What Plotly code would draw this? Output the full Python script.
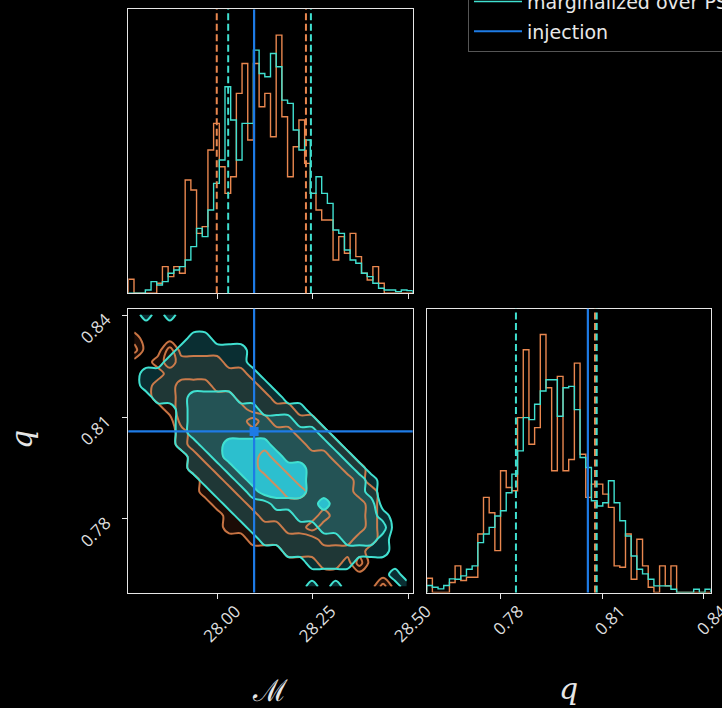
import numpy as np
import plotly.graph_objects as go

W, H = 722, 708

# ---- axis setup -------------------------------------------------------
MC_RANGE = [27.766, 28.512]
Q_RANGE = [0.7583, 0.8420]
MC_TICKS = [28.00, 28.25, 28.50]
MC_TICKTEXT = ["28.00", "28.25", "28.50"]
Q_TICKS = [0.78, 0.81, 0.84]
Q_TICKTEXT = ["0.78", "0.81", "0.84"]

# ---- injected values and 1-D credible bounds --------------------------
MC_INJ = 28.096
Q_INJ = 0.8058
MC_BOUNDS_FIXED = [27.998, 28.232]
MC_BOUNDS_MARG = [28.028, 28.245]
Q_BOUNDS_FIXED = [0.8079]
Q_BOUNDS_MARG = [0.7846, 0.8084]

# ---- 1-D histograms (50 bins spanning each axis range) -----------------
MC_HIST_FIXED = [4.2, 0, 0, 0, 0, 3, 8, 5, 8, 6, 34, 31, 18, 20, 43, 51, 38, 30, 35, 60,
                 69, 46, 69, 56, 60, 47, 77.5, 53, 35, 44, 52, 39, 30, 25, 22, 22, 10, 17, 12, 18,
                 11, 6, 4, 8, 3, 0, 0, 0, 0, 0]
MC_HIST_MARG = [0, 0, 0, 1, 3.5, 2.5, 3.5, 6, 7, 8, 10, 14, 19.5, 17, 25, 33, 40, 62, 52, 40,
                51, 51, 73, 66, 65, 72, 68, 58, 57, 49, 43, 46, 30, 35, 30, 27, 19, 18, 13, 10,
                9, 6, 5, 3, 1.5, 1, 1, 0.5, 1, 0.8]
Q_HIST_FIXED = [4.3, 0, 0, 0, 3, 8, 3.6, 4.6, 4.6, 17.6, 28.6, 24, 12.6, 36.6, 31.6, 30.6, 52.6, 73, 44.6, 49.6,
                77.6, 61.6, 36.6, 65, 36.6, 40, 69, 41.6, 28.6, 32.6, 32.6, 29.6, 25.6, 8, 7.6, 17.6, 4, 16, 8, 1.6,
                0, 8, 2, 8, 0, 0, 0, 0, 0, 0]
Q_HIST_MARG = [2.1, 1.6, 1.1, 2.1, 4.1, 4, 5, 7, 8, 15, 17.6, 19.6, 23, 24.6, 30, 35.6, 42.6, 52.6, 52, 56.6,
               60.6, 64, 64, 53, 61.6, 62, 55, 40.6, 37.6, 27.6, 26, 27, 33.6, 27, 21.6, 17, 11, 7, 5.6, 4,
               2, 2, 2, 1, 0, 0, 0, 1, 0, 1]

# ---- 2-D credible-region levels on a 24x24 grid (top row first) --------
# 0 = outside, 1 = outer region, 2 = middle region, 3 = inner region
LEVELS_FIXED = [
    "000000000000000000000000",
    "000000000000000000000000",
    "100000000000000000000000",
    "200200000000000000000000",
    "001211110000000000000000",
    "000111111100000000000000",
    "001122211110000000000000",
    "001122222111000000000000",
    "000122222211110000000000",
    "000022222232111100000000",
    "000012222222221110000000",
    "000012222222222111000000",
    "000001222223222221100000",
    "000001122223322222110000",
    "000000112222332222210000",
    "000000111222233222211000",
    "000000011122222222221000",
    "000000001112222232221000",
    "000000001111122322221000",
    "000000000011111122211000",
    "000000000000011111110000",
    "000000000000000011020000",
    "000000000000000000000000",
    "000000000000000000000200",
]
LEVELS_MARG = [
    "010100000000000000000000",
    "000000000000000000000000",
    "000001100000000000000000",
    "000011111100000000000000",
    "000111111100000000000000",
    "011111111110000000000000",
    "011111111111000000000000",
    "001112222111100000000000",
    "000012222221111000000000",
    "000012222222221100000000",
    "000012222222222210000000",
    "000011223333222221000000",
    "000001123333322222100000",
    "000001112333333222210000",
    "000000111233333222221000",
    "000000011123333222221000",
    "000000001111222232222000",
    "000000000111112222222100",
    "000000000011111122222200",
    "000000000001111111222100",
    "000000000000011111111100",
    "000000000000000111100000",
    "000000000000000000000010",
    "000000000000000101000001",
]

C_OR = "#E9874F"
C_CY = "#40E0D0"
C_BL = "#1E7BE5"
FG = "#e6e6e6"
TICK_FONT = dict(family="Open Sans", size=17, color="#dddddd")

# panel placement (fractions of the figure)
DX_LEFT = [128.3 / W, 412.7 / W]
DX_RIGHT = [426.7 / W, 710.7 / W]
DY_TOP = [1 - 293.3 / H, 1 - 9.3 / H]
DY_BOT = [1 - 592.5 / H, 1 - 308.7 / H]


def step_xy(counts, rng):
    edges = np.linspace(rng[0], rng[1], len(counts) + 1)
    xs = np.concatenate([[edges[0]], edges[1:], [edges[-1]]])
    ys = np.concatenate([[0.0], np.asarray(counts, float), [0.0]])
    return xs, ys


def level_grid(rows):
    return np.array([[int(ch) for ch in r] for r in rows[::-1]], dtype=float)


def cell_centers(rng, n):
    step = (rng[1] - rng[0]) / n
    return rng[0] + (np.arange(n) + 0.5) * step


fig = go.Figure()

mc_top = 1.1 * max(max(MC_HIST_FIXED), max(MC_HIST_MARG))
q_top = 1.1 * max(max(Q_HIST_FIXED), max(Q_HIST_MARG))

# ---- chirp-mass marginal -------------------------------------------------
xs, ys = step_xy(MC_HIST_FIXED, MC_RANGE)
fig.add_trace(go.Scatter(x=xs, y=ys, mode="lines", line=dict(color=C_OR, width=1.4, shape="vh"),
                         name="fixed PSD", legendgroup="a", xaxis="x", yaxis="y"))
xs, ys = step_xy(MC_HIST_MARG, MC_RANGE)
fig.add_trace(go.Scatter(x=xs, y=ys, mode="lines", line=dict(color=C_CY, width=1.4, shape="vh"),
                         name="marginalized over PSD", legendgroup="b", xaxis="x", yaxis="y"))
fig.add_trace(go.Scatter(x=[MC_INJ, MC_INJ], y=[0, mc_top], mode="lines",
                         line=dict(color=C_BL, width=2.2), name="injection", legendgroup="c",
                         xaxis="x", yaxis="y"))

# ---- mass-ratio marginal -------------------------------------------------
xs, ys = step_xy(Q_HIST_FIXED, Q_RANGE)
fig.add_trace(go.Scatter(x=xs, y=ys, mode="lines", line=dict(color=C_OR, width=1.4, shape="vh"),
                         showlegend=False, xaxis="x3", yaxis="y3"))
xs, ys = step_xy(Q_HIST_MARG, Q_RANGE)
fig.add_trace(go.Scatter(x=xs, y=ys, mode="lines", line=dict(color=C_CY, width=1.4, shape="vh"),
                         showlegend=False, xaxis="x3", yaxis="y3"))

# ---- joint posterior -----------------------------------------------------
gx = cell_centers(MC_RANGE, 24)
gy = cell_centers(Q_RANGE, 24)
zf = level_grid(LEVELS_FIXED)
zm = level_grid(LEVELS_MARG)
lv = dict(start=0.5, end=2.5, size=1)


def fill_scale(rgb, alphas):
    t = "rgba(0,0,0,0)"
    c = ["rgba(%d,%d,%d,%.3f)" % (rgb[0], rgb[1], rgb[2], a) for a in alphas]
    return [[0, t], [0.33, t], [0.33, c[0]], [0.66, c[0]], [0.66, c[1]], [0.95, c[1]],
            [0.95, c[2]], [1, c[2]]]


fig.add_trace(go.Contour(x=gx, y=gy, z=zf, contours=dict(coloring="fill", **lv),
                         colorscale=fill_scale((233, 100, 50), (0.12, 0.02, 0.03)),
                         showscale=False, line=dict(width=0, smoothing=1), hoverinfo="skip",
                         showlegend=False, xaxis="x2", yaxis="y2"))
fig.add_trace(go.Contour(x=gx, y=gy, z=zm, contours=dict(coloring="fill", **lv),
                         colorscale=fill_scale((46, 210, 228), (0.22, 0.18, 0.85)),
                         showscale=False, line=dict(width=0, smoothing=1), hoverinfo="skip",
                         showlegend=False, xaxis="x2", yaxis="y2"))
fig.add_trace(go.Contour(x=gx, y=gy, z=zf, contours=dict(coloring="none", **lv),
                         line=dict(color="rgba(233,135,79,0.85)", width=2, smoothing=1),
                         showscale=False, hoverinfo="skip", showlegend=False,
                         xaxis="x2", yaxis="y2"))
fig.add_trace(go.Contour(x=gx, y=gy, z=zm, contours=dict(coloring="none", **lv),
                         line=dict(color=C_CY, width=2, smoothing=1),
                         showscale=False, hoverinfo="skip", showlegend=False,
                         xaxis="x2", yaxis="y2"))
fig.add_trace(go.Scatter(x=[MC_INJ], y=[Q_INJ], mode="markers",
                         marker=dict(symbol="square", size=9, color=C_BL),
                         showlegend=False, xaxis="x2", yaxis="y2"))

DASH = "7px,3.5px"
shapes = []
for v in MC_BOUNDS_FIXED:
    shapes.append(dict(type="line", xref="x", yref="y domain", x0=v, x1=v, y0=0, y1=1,
                       line=dict(color=C_OR, width=2, dash=DASH)))
for v in MC_BOUNDS_MARG:
    shapes.append(dict(type="line", xref="x", yref="y domain", x0=v, x1=v, y0=0, y1=1,
                       line=dict(color=C_CY, width=2, dash=DASH)))
for v in Q_BOUNDS_FIXED:
    shapes.append(dict(type="line", xref="x3", yref="y3 domain", x0=v, x1=v, y0=0, y1=1,
                       line=dict(color=C_OR, width=2, dash=DASH)))
for v in Q_BOUNDS_MARG:
    shapes.append(dict(type="line", xref="x3", yref="y3 domain", x0=v, x1=v, y0=0, y1=1,
                       line=dict(color=C_CY, width=2, dash=DASH)))
shapes.append(dict(type="line", xref="x3", yref="y3 domain", x0=Q_INJ, x1=Q_INJ, y0=0, y1=1,
                   line=dict(color=C_BL, width=2.2)))
shapes.append(dict(type="line", xref="x2", yref="y2 domain", x0=MC_INJ, x1=MC_INJ, y0=0, y1=1,
                   line=dict(color=C_BL, width=2.2)))
shapes.append(dict(type="line", xref="x2 domain", yref="y2", x0=0, x1=1, y0=Q_INJ, y1=Q_INJ,
                   line=dict(color=C_BL, width=2.2)))

frame = dict(showline=True, linecolor=FG, linewidth=1.3, mirror=True, showgrid=False,
             zeroline=False, ticks="outside", ticklen=5, tickwidth=1.2, tickcolor=FG,
             tickfont=TICK_FONT, ticklabeloverflow="allow")
xlab = dict(tickangle=-45, ticklabelshift=18, ticklabelstandoff=-4)
ylab = dict(tickangle=-45, ticklabelstandoff=13, ticklabelshift=2)

fig.update_layout(
    width=W, height=H,
    paper_bgcolor="black", plot_bgcolor="black",
    margin=dict(l=0, r=0, t=0, b=0, autoexpand=False),
    hovermode=False,
    shapes=shapes,
    xaxis=dict(domain=DX_LEFT, anchor="y", range=MC_RANGE, tickvals=MC_TICKS,
               showticklabels=False, **frame),
    yaxis=dict(domain=DY_TOP, anchor="x", range=[0, mc_top], showline=True, linecolor=FG,
               linewidth=1.3, mirror=True, showgrid=False, zeroline=False,
               showticklabels=False, ticks=""),
    xaxis2=dict(domain=DX_LEFT, anchor="y2", range=MC_RANGE, tickvals=MC_TICKS,
                ticktext=MC_TICKTEXT, **xlab, **frame),
    yaxis2=dict(domain=DY_BOT, anchor="x2", range=Q_RANGE, tickvals=Q_TICKS,
                ticktext=Q_TICKTEXT, **ylab, **frame),
    xaxis3=dict(domain=DX_RIGHT, anchor="y3", range=Q_RANGE, tickvals=Q_TICKS,
                ticktext=Q_TICKTEXT, **xlab, **frame),
    yaxis3=dict(domain=DY_BOT, anchor="x3", range=[0, q_top], showline=True, linecolor=FG,
                linewidth=1.3, mirror=True, showgrid=False, zeroline=False,
                showticklabels=False, ticks=""),
    legend=dict(x=468 / W, y=1 - 52 / H, xanchor="left", yanchor="bottom",
                bgcolor="black", bordercolor="#555555", borderwidth=1,
                font=dict(family="DejaVu Sans", size=19, color="#e8e8e8"),
                traceorder="grouped", tracegroupgap=2, itemwidth=48),
    annotations=[
        dict(text="ℳ", x=270 / W, y=1 - 690 / H, xref="paper", yref="paper",
             xanchor="center", yanchor="middle", showarrow=False,
             font=dict(family="DejaVu Serif", size=30, color=FG)),
        dict(text="<i>q</i>", x=568 / W, y=1 - 688 / H, xref="paper", yref="paper",
             xanchor="center", yanchor="middle", showarrow=False,
             font=dict(family="DejaVu Serif", size=30, color=FG)),
        dict(text="<i>q</i>", x=21 / W, y=1 - 440 / H, xref="paper", yref="paper",
             xanchor="center", yanchor="middle", textangle=-90, showarrow=False,
             font=dict(family="DejaVu Serif", size=30, color=FG)),
    ],
)

fig.write_html("out.html")
